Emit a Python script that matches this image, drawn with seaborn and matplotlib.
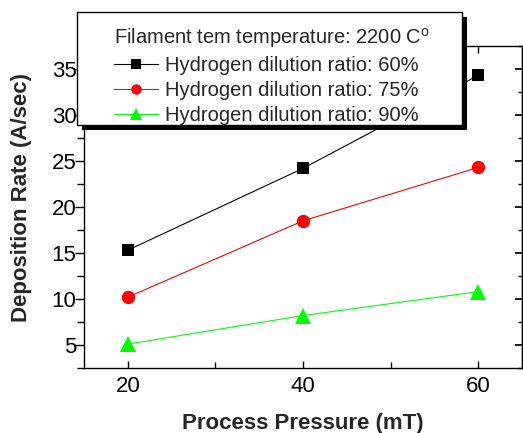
import numpy as np
import pandas as pd
import matplotlib
matplotlib.use("Agg")
import matplotlib.pyplot as plt
from matplotlib.lines import Line2D
from matplotlib.patches import Rectangle
from matplotlib.ticker import MultipleLocator
import seaborn as sns

# data
pressure = [20, 40, 60]
ratio_60 = [15.3, 24.2, 34.3]
ratio_75 = [10.2, 18.5, 24.3]
ratio_90 = [5.1, 8.2, 10.8]
series_labels = ["Hydrogen dilution ratio: 60%",
                 "Hydrogen dilution ratio: 75%",
                 "Hydrogen dilution ratio: 90%"]
legend_title = r"Filament tem temperature: 2200 C$^\mathrm{o}$"
colors = ["#000000", "#ff0000", "#00ff00"]
markers = ["s", "o", "^"]

df = pd.DataFrame({
    "pressure": pressure * 3,
    "rate": ratio_60 + ratio_75 + ratio_90,
    "series": np.repeat(series_labels, len(pressure)),
})

sns.set_theme(style="ticks")
plt.rcParams["font.family"] = ["Liberation Sans", "DejaVu Sans"]
plt.rcParams["mathtext.fontset"] = "custom"
plt.rcParams["mathtext.rm"] = "Liberation Sans"

W, H = 523, 433
fig = plt.figure(figsize=(W / 100, H / 100), dpi=100)
ax = fig.add_axes([84 / W, 1 - 368 / H, (522 - 84) / W, (368 - 46) / H])

sns.lineplot(data=df, x="pressure", y="rate", hue="series", style="series",
             hue_order=series_labels, style_order=series_labels,
             palette=colors, markers=markers, dashes=False,
             linewidth=0.8, markeredgewidth=0, legend=False, ax=ax)
for line, ms in zip(ax.lines, [8.8, 9.6, 11.5]):
    line.set_markersize(ms)

ax.set_xlim(15, 65)
ax.set_ylim(2.5, 37.5)
ax.xaxis.set_major_locator(MultipleLocator(20))
ax.xaxis.set_minor_locator(MultipleLocator(10))
ax.yaxis.set_major_locator(MultipleLocator(5))
ax.yaxis.set_minor_locator(MultipleLocator(2.5))

for s in ax.spines.values():
    s.set_color("black")
    s.set_linewidth(1.0)

ax.tick_params(axis="x", which="both", direction="in", top=True, bottom=True,
               labelsize=16, pad=6, color="black", labelcolor="black")
ax.tick_params(axis="x", which="major", length=5, width=1)
ax.tick_params(axis="x", which="minor", length=4, width=1)
ax.tick_params(axis="y", which="both", direction="out", left=True, right=False,
               labelsize=16, pad=-1, color="black", labelcolor="black")
ax.tick_params(axis="y", which="major", length=6.5, width=1)
ax.tick_params(axis="y", which="minor", length=5, width=1)

sec = ax.secondary_yaxis("right")
sec.yaxis.set_major_locator(MultipleLocator(5))
sec.yaxis.set_minor_locator(MultipleLocator(2.5))
sec.tick_params(which="both", direction="in", labelright=False, color="black")
sec.tick_params(which="major", length=5)
sec.tick_params(which="minor", length=3)
sec.spines["right"].set_linewidth(1.0)

ax.set_xlabel("Process Pressure (mT)", fontsize=16, fontweight="bold")
ax.set_ylabel("Deposition Rate (A/sec)", fontsize=16, fontweight="bold")
ax.xaxis.set_label_coords(0.5, -0.14)
ax.yaxis.set_label_coords(-0.118, 0.53)

# legend box with a solid black drop shadow
fig.patches.append(Rectangle((82 / W, 1 - 130 / H), (467 - 82) / W, (130 - 17) / H,
                             transform=fig.transFigure, facecolor="black",
                             edgecolor="none", zorder=3))
fig.patches.append(Rectangle((77 / W, 1 - 125 / H), (462 - 77) / W, (125 - 12) / H,
                             transform=fig.transFigure, facecolor="white",
                             edgecolor="black", linewidth=1.0, zorder=4))

handles = [Line2D([], [], color=c, marker=m, markersize=ms, linewidth=0.8,
                  markeredgewidth=0)
           for c, m, ms in zip(colors, markers, [6.5, 7.5, 8.5])]
leg = fig.legend(handles, series_labels, title=legend_title,
                 loc="upper left", bbox_to_anchor=(114 / W, 1 - 26 / H),
                 frameon=False, fontsize=14.5, title_fontsize=14.5,
                 handlelength=2.2, handletextpad=0.35, labelspacing=0.3,
                 borderpad=0, borderaxespad=0, alignment="left")
leg.set_zorder(5)

fig.savefig("out.png", dpi=100)
